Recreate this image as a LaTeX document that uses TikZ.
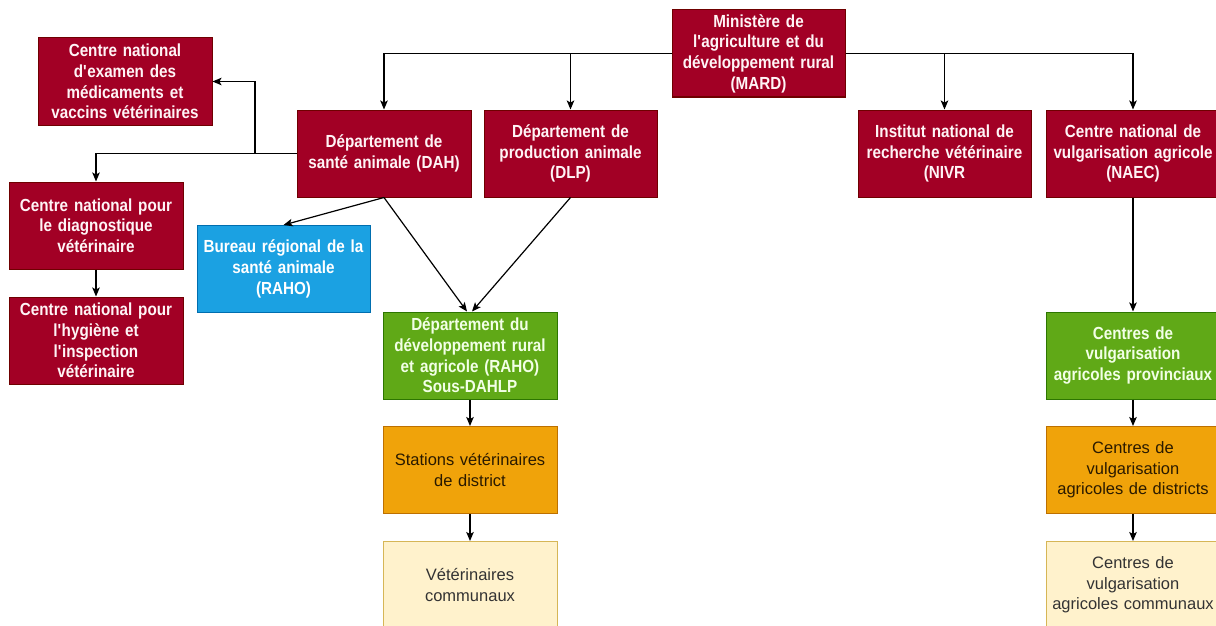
\documentclass[tikz,border=0pt]{standalone}
\usepackage{fontspec}
\setmainfont{Liberation Sans}
\newfontfamily\bnfont{Liberation Sans}[FakeStretch=0.87]
\usetikzlibrary{arrows.meta}
\definecolor{rfill}{HTML}{A20025}
\definecolor{rdraw}{HTML}{6F0000}
\definecolor{bfill}{HTML}{1BA1E2}
\definecolor{bdraw}{HTML}{006EAF}
\definecolor{gfill}{HTML}{60A917}
\definecolor{gdraw}{HTML}{2D7600}
\definecolor{ofill}{HTML}{F0A30A}
\definecolor{odraw}{HTML}{BD7000}
\definecolor{cfill}{HTML}{FFF2CC}
\definecolor{cdraw}{HTML}{D6B656}
\definecolor{otext}{HTML}{2A1A00}
\definecolor{ctext}{HTML}{333333}
\definecolor{gtext}{HTML}{F2FFE6}
\definecolor{rtext}{HTML}{FFF4F6}
\tikzset{
  box/.style={rectangle, minimum width=174pt, minimum height=87pt, inner sep=0pt,
    line width=1pt, align=center, text width=172pt,
    font=\fontsize{16.5}{20.7}\selectfont},
  boldtext/.style={font=\bnfont\fontsize{17.5}{20.7}\selectfont\bfseries},
  redbox/.style={box, fill=rfill, draw=rdraw, text=rtext, boldtext},
  bluebox/.style={box, fill=bfill, draw=bdraw, text=white, boldtext},
  greenbox/.style={box, fill=gfill, draw=gdraw, text=gtext, boldtext},
  orangebox/.style={box, fill=ofill, draw=odraw, text=otext},
  creambox/.style={box, fill=cfill, draw=cdraw, text=ctext},
  arr/.style={draw=black, line width=1.2pt, -{Stealth[length=9pt,width=7.5pt,inset=2pt]}}
}
\begin{document}
\begin{tikzpicture}[x=1pt,y=-1pt]
\useasboundingbox (0,0) rectangle (1216,626);
\fill[white] (0,0) rectangle (1216,626);
\clip (0,0) rectangle (1216,626);

\node[redbox, minimum width=173pt] (mard) at (758.5,53.5) {Ministère de\\l\textquotesingle agriculture et du\\développement rural\\(MARD)};
\node[redbox] (dah) at (384,153.5) {Département de\\santé animale (DAH)};
\node[redbox, minimum width=173pt] (dlp) at (570.5,153.5) {Département de\\production animale\\(DLP)};
\node[redbox, minimum width=173pt] (nivr) at (944.5,153.5) {Institut national de\\recherche vétérinaire\\(NIVR};
\node[redbox] (naec) at (1133,153.5) {Centre national de\\vulgarisation agricole\\(NAEC)};
\node[redbox] (cnexam) at (125,81.5) {Centre national\\d\textquotesingle examen des\\médicaments et\\vaccins vétérinaires};
\node[redbox] (cndiag) at (96,225.5) {Centre national pour\\le diagnostique\\vétérinaire};
\node[redbox] (cnhyg) at (96,340.5) {Centre national pour\\l\textquotesingle hygiène et\\l\textquotesingle inspection\\vétérinaire};
\node[bluebox, minimum width=173pt] (raho) at (283.5,269) {Bureau régional de la\\santé animale\\(RAHO)};
\node[greenbox] (ddra) at (470,355.5) {Département du\\développement rural\\et agricole (RAHO)\\Sous-DAHLP};
\node[orangebox] (svd) at (470,470) {Stations vétérinaires\\de district};
\node[creambox] (vc) at (470,585) {Vétérinaires\\communaux};
\node[greenbox] (cvp) at (1133,355.5) {Centres de\\vulgarisation\\agricoles provinciaux};
\node[orangebox] (cvd) at (1133,470) {Centres de\\vulgarisation\\agricoles de districts};
\node[creambox] (cvc) at (1133,585) {Centres de\\vulgarisation\\agricoles communaux};

\coordinate (br) at (255,153.5);

\draw[arr] (mard.west) -| (dah.north);
\draw[arr] (dlp.north |- mard.west) -- (dlp.north);
\draw[arr] (mard.east) -| (nivr.north);
\draw[arr] (mard.east) -| (naec.north);
\draw[arr] (dah.west) -| (cndiag.north);
\draw[arr] (br) |- (cnexam.east);
\draw[arr] (dah.south) -- (raho.north);
\draw[arr] (dah.south) -- ([xshift=-3pt]ddra.north);
\draw[arr] (dlp.south) -- ([xshift=2pt]ddra.north);
\draw[arr] (cndiag) -- (cnhyg);
\draw[arr] (ddra) -- (svd);
\draw[arr] (svd) -- (vc);
\draw[arr] (naec) -- (cvp);
\draw[arr] (cvp) -- (cvd);
\draw[arr] (cvd) -- (cvc);
\end{tikzpicture}
\end{document}
